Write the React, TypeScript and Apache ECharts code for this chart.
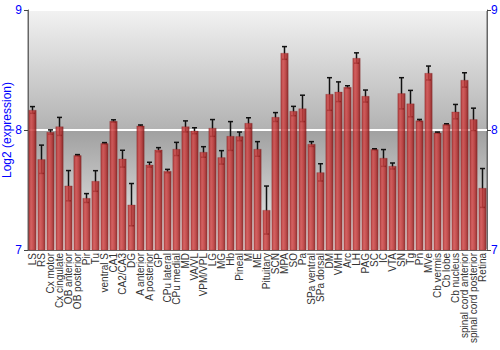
import React, { useEffect, useRef } from "react";
import * as echarts from "echarts";

const categories = [
  "LS", "RS", "Cx motor", "Cx cingulate", "OB anterior", "OB posterior", "Pir", "Tu", "ventral S", "CA1",
  "CA2/CA3", "DG", "A anterior", "A posterior", "GP", "CPu lateral", "CPu medial", "MD", "VA/VL", "VPM/VPL",
  "LG", "MG", "Hb", "Pineal", "M", "ME", "Pituitary", "SCN", "MPA", "SO",
  "Pa", "SPa ventral", "SPa dorsal", "DM", "VMH", "Arc", "LH", "PAG", "SC", "IC",
  "VTA", "SN", "Tg", "Pn", "MVe", "Cb vermis", "Cb lobe", "Cb nucleus", "spinal cord anterior", "spinal cord posterior",
  "Retina",
];

const values = [
  8.167, 7.756, 7.983, 8.03, 7.536, 7.789, 7.433, 7.575, 7.889, 8.075,
  7.761, 7.378, 8.036, 7.711, 7.836, 7.658, 7.842, 8.03, 7.994, 7.817,
  8.017, 7.772, 7.95, 7.947, 8.058, 7.842, 7.333, 8.108, 8.642, 8.158,
  8.18, 7.883, 7.647, 8.3, 8.319, 8.358, 8.6, 8.283, 7.839, 7.767,
  7.7, 8.306, 8.22, 8.08, 8.475, 7.978, 8.047, 8.153, 8.417, 8.089,
  7.517,
];

const errors = [
  0.028, 0.118, 0.018, 0.075, 0.126, 0.006, 0.037, 0.086, 0.006, 0.01,
  0.07, 0.176, 0.006, 0.02, 0.017, 0.014, 0.055, 0.046, 0.025, 0.044,
  0.07, 0.056, 0.12, 0.036, 0.044, 0.061, 0.2, 0.037, 0.053, 0.039,
  0.11, 0.02, 0.072, 0.136, 0.082, 0.011, 0.043, 0.05, 0.005, 0.07,
  0.025, 0.13, 0.11, 0.008, 0.058, 0.005, 0.005, 0.06, 0.06, 0.093,
  0.162,
];

const yTicks = { min: 7, max: 9, interval: 1 };

export default function App() {
  const ref = useRef<HTMLDivElement>(null);
  useEffect(() => {
    if (!ref.current) return;
    const chart = echarts.init(ref.current, null, { renderer: "svg" });
    const errData = values.map((v, i) => [i, v - errors[i], v + errors[i]]);
    const blue = "#0000ff";
    const font = "Liberation Sans, Arial, sans-serif";
    chart.setOption({
      animation: false,
      grid: {
        left: 28,
        right: 13,
        top: 10,
        bottom: 100,
        outerBoundsMode: "none",
        containLabel: false,
        show: true,
        borderColor: "#666",
        borderWidth: 1,
        backgroundColor: {
          type: "linear",
          x: 0, y: 0, x2: 0, y2: 1,
          colorStops: [
            { offset: 0, color: "#f2f2f2" },
            { offset: 0.5, color: "#b2b2b2" },
            { offset: 0.5, color: "#a0a0a0" },
            { offset: 1, color: "#eeeeee" },
          ],
        },
      },
      xAxis: {
        type: "category",
        data: categories,
        axisTick: { show: false },
        axisLine: { show: true, lineStyle: { color: "#666" } },
        axisLabel: {
          interval: 0,
          rotate: 90,
          fontSize: 10,
          color: "#333",
          fontFamily: font,
          margin: 3,
        },
      },
      yAxis: [
        {
          type: "value",
          min: yTicks.min,
          max: yTicks.max,
          interval: yTicks.interval,
          name: "Log2 (expression)",
          nameLocation: "middle",
          nameGap: 15,
          nameMoveOverlap: false,
          nameTextStyle: { color: blue, fontSize: 12, fontFamily: font },
          axisLine: { show: true, lineStyle: { color: "#666" } },
          axisTick: { show: true, length: 4, lineStyle: { color: "#444" } },
          axisLabel: { color: blue, fontSize: 12, margin: 6, fontFamily: font },
          splitLine: { show: true, lineStyle: { color: "#ffffff", width: 2 } },
        },
        {
          type: "value",
          position: "right",
          min: yTicks.min,
          max: yTicks.max,
          interval: yTicks.interval,
          axisLine: { show: true, lineStyle: { color: "#666" } },
          axisTick: { show: true, length: 4, lineStyle: { color: "#444" } },
          axisLabel: { color: blue, fontSize: 12, margin: 4, fontFamily: font },
          splitLine: { show: false },
        },
      ],
      series: [
        {
          type: "custom",
          z: 1,
          data: errData,
          renderItem: (params: any, api: any) => {
            const x = api.value(0);
            const lo = api.coord([x, api.value(1)]);
            const hi = api.coord([x, api.value(2)]);
            const w = 2.5;
            const style = { stroke: "#111", lineWidth: 1.5 };
            return {
              type: "group",
              children: [
                { type: "line", shape: { x1: lo[0], y1: lo[1], x2: hi[0], y2: hi[1] }, style },
                { type: "line", shape: { x1: lo[0] - w, y1: lo[1], x2: lo[0] + w, y2: lo[1] }, style },
                { type: "line", shape: { x1: hi[0] - w, y1: hi[1], x2: hi[0] + w, y2: hi[1] }, style },
              ],
            };
          },
        },
        {
          type: "bar",
          z: 2,
          data: values,
          barWidth: "88%",
          itemStyle: {
            opacity: 0.85,
            borderColor: "rgba(120,20,20,0.5)",
            borderWidth: 0.5,
            color: {
              type: "linear",
              x: 0, y: 0, x2: 1, y2: 0,
              colorStops: [
                { offset: 0, color: "#a52222" },
                { offset: 0.3, color: "#d24c4c" },
                { offset: 0.6, color: "#c23838" },
                { offset: 1, color: "#821414" },
              ],
            },
          },
        },
      ],
    });
    return () => chart.dispose();
  }, []);
  return (
    <div
      ref={ref}
      style={{ width: 500, height: 350, position: "fixed", left: 0, top: 0, background: "#fff" }}
    />
  );
}
